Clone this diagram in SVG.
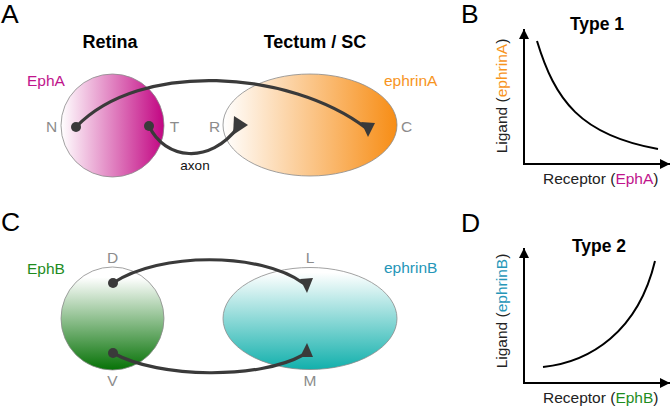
<svg xmlns="http://www.w3.org/2000/svg" width="671" height="406" viewBox="0 0 671 406">
<style>
text{font-family:"Liberation Sans",Arial,sans-serif}
.panel{font-size:26.5px;fill:#000}
.title{font-size:18px;font-weight:bold;fill:#000}
.gtitle{font-size:17.5px;font-weight:bold;fill:#000}
.pole{font-size:15.5px;fill:#8c8c8c;text-anchor:middle}
.lbl{font-size:15.5px}
.ax{font-size:15.5px;fill:#222}
.mag{fill:#c0148c}
.org{fill:#f7941d}
.grn{fill:#1e8c1e}
.teal{fill:#2596b8}
.tissue{stroke:#8a8a8a;stroke-width:0.8}
.axon{fill:none;stroke:#3a3a3a;stroke-width:3.2;stroke-linecap:round}
.dot{fill:#3a3a3a}
.head{fill:#3a3a3a}
.axis{fill:none;stroke:#000;stroke-width:2}
.curve{fill:none;stroke:#000;stroke-width:2}
</style>
<defs>
<linearGradient id="gRet" x1="0" y1="0" x2="1" y2="0">
<stop offset="0" stop-color="#ffffff"/><stop offset="1" stop-color="#c20582"/>
</linearGradient>
<linearGradient id="gTec" x1="0" y1="0" x2="1" y2="0">
<stop offset="0" stop-color="#ffffff"/><stop offset="1" stop-color="#f78d15"/>
</linearGradient>
<linearGradient id="gRetB" x1="0" y1="0" x2="0" y2="1">
<stop offset="0.1" stop-color="#ffffff"/><stop offset="1" stop-color="#067206"/>
</linearGradient>
<linearGradient id="gTecB" x1="0" y1="0" x2="0" y2="1">
<stop offset="0.05" stop-color="#ffffff"/><stop offset="1" stop-color="#12b0ac"/>
</linearGradient>
<marker id="axArrow" viewBox="0 0 10 10" refX="10" refY="5" markerWidth="10" markerHeight="10" markerUnits="userSpaceOnUse" orient="auto">
<path d="M0,0 L10,5 L0,10 z" fill="#000"/>
</marker>
</defs>

<!-- Panel labels -->
<text class="panel" x="1" y="23">A</text>
<text class="panel" x="461" y="23">B</text>
<text class="panel" x="1" y="231">C</text>
<text class="panel" x="461" y="232">D</text>

<!-- Panel A -->
<text class="title" x="110" y="48" text-anchor="middle">Retina</text>
<text class="title" x="315" y="48" text-anchor="middle">Tectum / SC</text>

<g id="retinaA">
<circle class="tissue" cx="112.5" cy="125.5" r="51.5" fill="url(#gRet)"/>
<text class="lbl mag" x="27" y="86">EphA</text>
<text class="pole" x="51.5" y="132">N</text>
<text class="pole" x="174.5" y="132">T</text>
</g>
<g id="tectumA">
<ellipse class="tissue" cx="310" cy="125" rx="87" ry="51" fill="url(#gTec)"/>
<text class="lbl org" x="384" y="86">ephrinA</text>
<text class="pole" x="214.5" y="132">R</text>
<text class="pole" x="406.5" y="132">C</text>
</g>

<!-- Panel C -->
<g id="retinaC">
<circle class="tissue" cx="112.5" cy="318.5" r="51.5" fill="url(#gRetB)"/>
<text class="lbl grn" x="27" y="274">EphB</text>
<text class="pole" x="112.5" y="263">D</text>
<text class="pole" x="112.5" y="386">V</text>
</g>
<g id="tectumC">
<ellipse class="tissue" cx="310" cy="318.5" rx="87" ry="51" fill="url(#gTecB)"/>
<text class="lbl teal" x="384" y="273">ephrinB</text>
<text class="pole" x="310" y="263">L</text>
<text class="pole" x="310" y="386">M</text>
</g>

<g id="connectors">
<path class="axon" d="M76,127 C140,60 290,70 366,128"/>
<polygon class="head" points="361,122 375,123 368,137"/>
<path class="axon" d="M149,126 C165,160 210,165 238,127"/>
<polygon class="head" points="234,116 248,125 233,135"/>
<text x="195" y="170" font-size="13.5" text-anchor="middle" fill="#111">axon</text>
<circle class="dot" cx="76" cy="127" r="5"/>
<circle class="dot" cx="149" cy="126" r="5"/>

<path class="axon" d="M113,283 C160,252 260,252 303,283"/>
<polygon class="head" points="300,279 313,278 307,293"/>
<path class="axon" d="M113,353 C160,379 260,379 303,355"/>
<polygon class="head" points="300,357 313,357 307,343"/>
<circle class="dot" cx="113" cy="283" r="5"/>
<circle class="dot" cx="113" cy="353" r="5"/>
</g>

<!-- Panel B graph -->
<g id="graphB">
<text class="gtitle" x="597" y="30" text-anchor="middle">Type 1</text>
<path class="axis" d="M524,164 L524,29" marker-end="url(#axArrow)"/>
<path class="axis" d="M523,164 L670,164" marker-end="url(#axArrow)"/>
<path class="curve" d="M537,41 C555,100 580,135 658,149"/>
<text class="ax" x="543" y="184">Receptor (<tspan class="mag">EphA</tspan>)</text>
<text class="ax" transform="translate(507,96) rotate(-90)" text-anchor="middle">Ligand (<tspan class="org">ephrinA</tspan>)</text>
</g>

<!-- Panel D graph -->
<g id="graphD">
<text class="gtitle" x="599" y="252" text-anchor="middle">Type 2</text>
<path class="axis" d="M524,383 L524,248" marker-end="url(#axArrow)"/>
<path class="axis" d="M523,383 L670,383" marker-end="url(#axArrow)"/>
<path class="curve" d="M543,367 C590,362 638,332 655,261"/>
<text class="ax" x="543" y="403">Receptor (<tspan class="grn">EphB</tspan>)</text>
<text class="ax" transform="translate(507,311) rotate(-90)" text-anchor="middle">Ligand (<tspan class="teal">ephrinB</tspan>)</text>
</g>
</svg>
